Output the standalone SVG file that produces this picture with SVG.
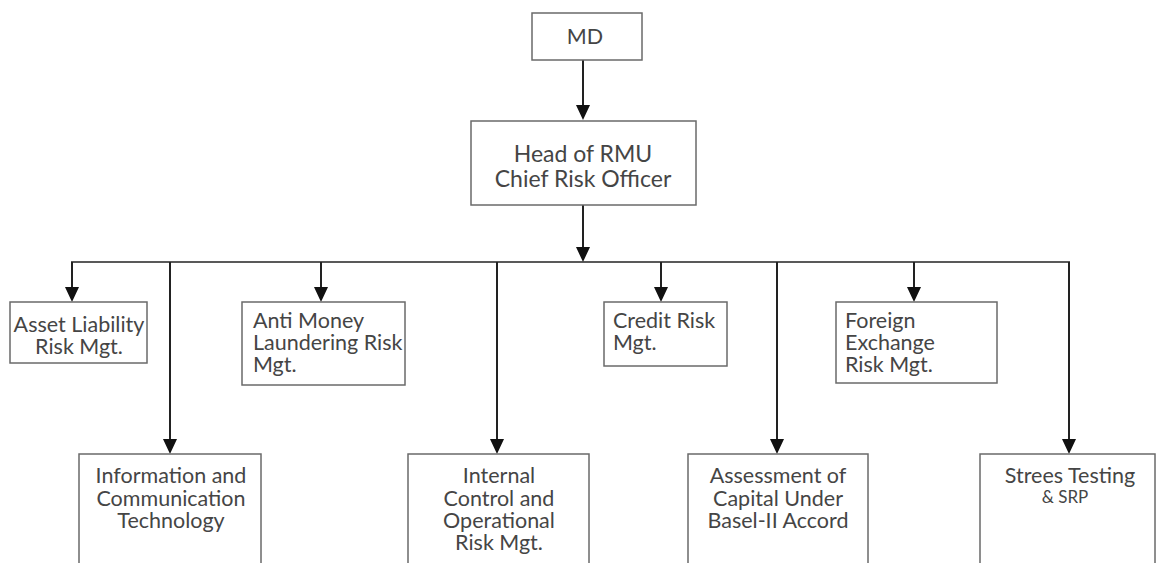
<svg xmlns="http://www.w3.org/2000/svg" width="1157" height="563" viewBox="0 0 1157 563">
<style>
.box{fill:#fff;stroke:#6a6a6a;stroke-width:1.5}
.t{font-family:Lato,"Open Sans","Liberation Sans",sans-serif;font-size:21.5px;fill:#454545}
.c{text-anchor:middle}
.con{fill:none;stroke:#222;stroke-width:2}
.ah{fill:#111}
</style>
<rect width="1157" height="563" fill="#fff"/>
<g id="connectors">
<line class="con" x1="583" y1="60" x2="583" y2="110"/>
<path class="ah" d="M576,105 L590,105 L583,120 Z"/>
<line class="con" x1="583" y1="205" x2="583" y2="255"/>
<path class="ah" d="M576,247 L590,247 L583,262 Z"/>
<line class="con" x1="71" y1="262" x2="1070" y2="262" style="stroke-width:1.5"/>
<line class="con" x1="72" y1="262" x2="72" y2="295"/>
<path class="ah" d="M65,287 L79,287 L72,302 Z"/>
<line class="con" x1="170" y1="262" x2="170" y2="446"/>
<path class="ah" d="M163,439 L177,439 L170,454 Z"/>
<line class="con" x1="321" y1="262" x2="321" y2="295"/>
<path class="ah" d="M314,287 L328,287 L321,302 Z"/>
<line class="con" x1="497" y1="262" x2="497" y2="446"/>
<path class="ah" d="M490,439 L504,439 L497,454 Z"/>
<line class="con" x1="661" y1="262" x2="661" y2="295"/>
<path class="ah" d="M654,287 L668,287 L661,302 Z"/>
<line class="con" x1="777" y1="262" x2="777" y2="446"/>
<path class="ah" d="M770,439 L784,439 L777,454 Z"/>
<line class="con" x1="914" y1="262" x2="914" y2="295"/>
<path class="ah" d="M907,287 L921,287 L914,302 Z"/>
<line class="con" x1="1069" y1="262" x2="1069" y2="446"/>
<path class="ah" d="M1062,439 L1076,439 L1069,454 Z"/>
</g>
<g id="md">
<rect class="box" x="532" y="13" width="110" height="47"/>
<text class="t c" x="585" y="44">MD</text>
</g>
<g id="head">
<rect class="box" x="471" y="121" width="225" height="84"/>
<text class="t c" x="583" y="162" style="font-size:23px">Head of RMU</text>
<text class="t c" x="583" y="187" style="font-size:23px">Chief Risk Officer</text>
</g>
<g id="asset">
<rect class="box" x="10" y="302" width="137" height="61"/>
<text class="t c" x="79" y="332">Asset Liability</text>
<text class="t c" x="79" y="354">Risk Mgt.</text>
</g>
<g id="aml">
<rect class="box" x="242" y="302" width="163" height="83"/>
<text class="t" x="253" y="328">Anti Money</text>
<text class="t" x="253" y="350">Laundering Risk</text>
<text class="t" x="253" y="372">Mgt.</text>
</g>
<g id="credit">
<rect class="box" x="604" y="302" width="123" height="64"/>
<text class="t" x="613" y="328">Credit Risk</text>
<text class="t" x="613" y="350">Mgt.</text>
</g>
<g id="forex">
<rect class="box" x="836" y="302" width="161" height="81"/>
<text class="t" x="845" y="328">Foreign</text>
<text class="t" x="845" y="350">Exchange</text>
<text class="t" x="845" y="372">Risk Mgt.</text>
</g>
<g id="ict">
<rect class="box" x="79" y="454" width="182" height="120"/>
<text class="t c" x="171" y="483">Information and</text>
<text class="t c" x="171" y="506">Communication</text>
<text class="t c" x="171" y="528">Technology</text>
</g>
<g id="icorm">
<rect class="box" x="408" y="454" width="181" height="120"/>
<text class="t c" x="499" y="483">Internal</text>
<text class="t c" x="499" y="506">Control and</text>
<text class="t c" x="499" y="528">Operational</text>
<text class="t c" x="499" y="550">Risk Mgt.</text>
</g>
<g id="basel">
<rect class="box" x="688" y="454" width="180" height="120"/>
<text class="t c" x="778" y="483">Assessment of</text>
<text class="t c" x="778" y="506">Capital Under</text>
<text class="t c" x="778" y="528">Basel-II Accord</text>
</g>
<g id="stress">
<rect class="box" x="980" y="454" width="175" height="120"/>
<text class="t c" x="1070" y="483">Strees Testing</text>
<text class="t c" x="1065" y="503" style="font-size:17px">&amp; SRP</text>
</g>
</svg>
